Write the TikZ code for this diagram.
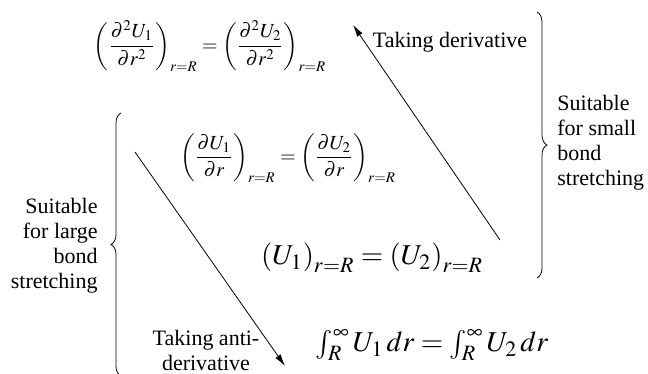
\documentclass[tikz,border=0pt]{standalone}
\usepackage{mathptmx}
\usepackage[no-math]{fontspec}
\setmainfont{Liberation Serif}
\usetikzlibrary{arrows.meta,decorations.pathreplacing}

\begin{document}
\begin{tikzpicture}[x=0.5pt, y=-0.5pt,
  eqn/.style={inner sep=0pt},
  note/.style={inner sep=0pt, font=\fontsize{11}{12.5}\selectfont},
  bracebar/.style={decorate, decoration={brace, amplitude=5pt}, thin},
  conv/.style={-{Latex[length=6pt,width=3.2pt]}, thin}]
  \useasboundingbox (0,0) rectangle (648,374);
  % 条件
  \node[eqn] (secd) at (210,46) {$\displaystyle\left(\frac{\partial^2U_1}{\partial r^2}\right)_{r=R}=\left(\frac{\partial^2U_2}{\partial r^2}\right)_{r=R}$};
  \node[eqn] (frst) at (288,158) {$\displaystyle\left(\frac{\partial U_1}{\partial r}\right)_{r=R}=\left(\frac{\partial U_2}{\partial r}\right)_{r=R}$};
  \node[eqn] (zero) at (372,258) {\Large$\left(U_1\right)_{r=R}=\left(U_2\right)_{r=R}$};
  \node[eqn] (intg) at (432,345) {\Large$\int_R^\infty U_1\,dr=\int_R^\infty U_2\,dr$};
  % 箭头
  \coordinate (dstart) at (500,240);
  \coordinate (dend) at (353,25);
  \coordinate (astart) at (135,152);
  \coordinate (aend) at (285,366);
  \draw[conv] (dstart) -- (dend);
  \draw[conv] (astart) -- (aend);
  \node[note] (dlbl) at (450,42) {Taking derivative};
  \node[note, align=center] (albl) at (206,350) {Taking anti-\\derivative};
  % 括号
  \coordinate (rtop) at (537,12);
  \coordinate (rbot) at (537,278);
  \coordinate (lbot) at (121,376);
  \coordinate (ltop) at (121,113);
  \draw[bracebar] (rtop) -- (rbot);
  \draw[bracebar] (lbot) -- (ltop);
  \node[note, anchor=west, align=left] (small) at (557,143) {Suitable\\for small\\bond\\stretching};
  \node[note, anchor=east, align=right] (large) at (98,246) {Suitable\\for large\\bond\\stretching};
\end{tikzpicture}
\end{document}
